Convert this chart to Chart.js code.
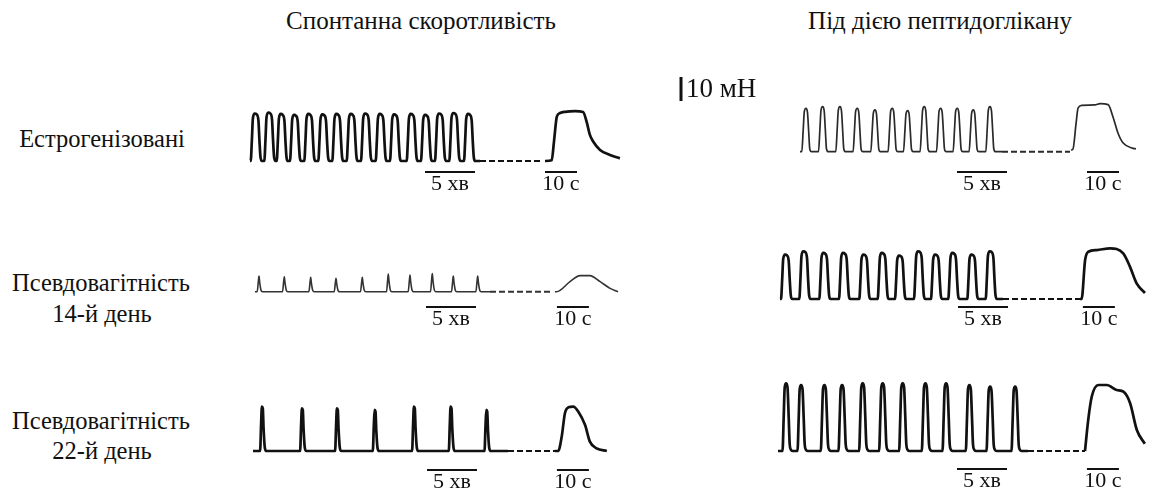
<!DOCTYPE html>
<html><head><meta charset="utf-8">
<script src="https://cdn.jsdelivr.net/npm/chart.js@4/dist/chart.umd.min.js"></script>
<style>
html,body{margin:0;padding:0;background:#fff}
body{width:1161px;height:497px;position:relative;overflow:hidden;font-family:"Liberation Serif","DejaVu Serif",serif;color:#111}
.t{position:absolute;white-space:nowrap;line-height:0;transform:translateX(-50%)}
canvas{position:absolute}
</style></head><body>
<script>
// ---------- texts ----------
const columnTitles = ['Спонтанна скоротливість', 'Під дією пептидоглікану'];
const rowLabels = [['Естрогенізовані'], ['Псевдовагітність', '14-й день'], ['Псевдовагітність', '22-й день']];
const minuteBarLabel = '5 хв';
const secondBarLabel = '10 с';
const forceBarLabel = '10 мН';
const minuteBarLength = 5;   // min
const secondBarLength = 10;  // s
const forceBarLength = 10;   // mN

// ---------- data: phasic peaks (min from record start, mN) and tonic responses (s, mN) ----------
// Естрогенізовані, спонтанна
const estroSpontPeakMin = [0.57,1.93,3.17,4.5,5.93,7.33,8.73,10.17,11.6,13.07,14.5,16.17,17.6,19.0,20.43,21.9];
const estroSpontPeakMN  = [19.8,20.2,19.6,19.2,19.6,19.4,19.6,19.6,19.8,19.6,19.4,19.6,19.2,19.8,20.0,19.6];
const estroSpontRecordEnd = 23.0, estroSpontBreakEnd = 29.0;
const estroSpontTonicSec = [0,2.1,2.8,3.7,4.7,6.25,9.4,11.9,13.0,14.0,15.1,17.2,20.3,23.4];
const estroSpontTonicMN  = [0,0.3,8,18.5,20,20.5,20.8,20.4,16.4,11,8,4.6,2.5,1.1];
// Естрогенізовані, пептидоглікан
const estroPgnPeakMin = [0.6,2.27,4.0,5.73,7.5,9.23,10.77,12.43,14.07,15.73,17.33,19.0];
const estroPgnPeakMN  = [18.1,18.75,18.75,18.1,17.4,18.1,17.1,18.75,18.1,18.1,17.4,18.75];
const estroPgnRecordEnd = 20.2, estroPgnBreakEnd = 27.0;
const estroPgnTonicSec = [0,0.6,1.6,2.2,3.4,7.5,9.1,11.6,13.1,14.7,16.3,19.4,20.3];
const estroPgnTonicMN  = [0.7,1.0,12,18.2,19.3,19.5,20,19.6,14.6,7.7,3.6,1.4,1.2];
// Псевдовагітність 14-й день, спонтанна
const ps14SpontPeakMin = [0.4,2.93,5.57,8.1,10.73,13.33,15.5,17.73,19.83,22.27];
const ps14SpontPeakMN  = [6.5,6.25,6.0,5.6,6.0,7.4,6.9,7.6,6.5,6.5];
const ps14SpontRecordEnd = 23.5, ps14SpontBreakEnd = 29.8;
const ps14SpontTonicSec = [0,0.5,4.7,7.8,10.9,14.1,17.2,19.7];
const ps14SpontTonicMN  = [0,0,4.2,6.7,6.7,4.2,1.4,0];
// Псевдовагітність 14-й день, пептидоглікан
const ps14PgnPeakMin = [0.6,2.43,4.43,6.4,8.43,10.27,12.0,13.9,15.6,17.33,19.23,21.07];
const ps14PgnPeakMN  = [18.5,19.9,19.2,19.2,18.5,19.2,18.1,19.9,18.5,19.2,18.5,19.9];
const ps14PgnRecordEnd = 22.3, ps14PgnBreakEnd = 30.0;
const ps14PgnTonicSec = [0,0.5,1.6,2.6,5.2,9.4,13.5,15.6,17.7,20.3];
const ps14PgnTonicMN  = [0,0,16.3,19.7,20.4,21.1,19,13.5,6.5,2.5];
// Псевдовагітність 22-й день, спонтанна
const ps22SpontPeakMin = [0.93,4.93,8.43,12.2,16.13,19.8,23.37];
const ps22SpontPeakMN  = [18.5,17.8,17.8,17.1,18.5,18.5,17.1];
const ps22SpontRecordEnd = 25.5, ps22SpontBreakEnd = 30.2;
const ps22SpontTonicSec = [0,1.0,2.1,3.1,4.2,5.7,7.3,9.4,10.9,13.0,16.2];
const ps22SpontTonicMN  = [0,0,6,15.7,18.2,18.5,16.4,10.8,3.9,1.1,0];
// Псевдовагітність 22-й день, пептидоглікан
const ps22PgnPeakMin = [0.87,2.37,4.7,6.47,8.53,10.53,12.53,14.8,16.87,19.2,21.27,23.77];
const ps22PgnPeakMN  = [28.2,27.5,27.5,27.5,28.2,28.2,28.2,28.2,28.2,27.5,26.8,26.8];
const ps22PgnRecordEnd = 25.0, ps22PgnBreakEnd = 30.7;
const ps22PgnTonicSec = [0,1.0,2.1,4.2,6.8,9.9,12,14.1,16.2,18.7];
const ps22PgnTonicMN  = [0,12.9,22.6,27.5,27.5,25.4,24.7,19.9,8.75,3];

// ---------- style / layout ----------
const PX_PER_MIN = 10, PX_PER_SEC = 3.2, PX_PER_MN = 2.4;
const shapes = {
  wide:   [[-0.5,0],[-0.38,0.45],[-0.28,0.9],[-0.1,1],[0.1,0.98],[0.27,0.86],[0.37,0.45],[0.48,0.08],[0.62,0]],
  narrow: [[-0.42,0],[-0.28,0.5],[-0.17,0.92],[0,1],[0.15,0.9],[0.26,0.5],[0.38,0.06],[0.55,0]],
  spike:  [[-0.18,0],[-0.06,0.7],[0,1],[0.07,0.6],[0.2,0.1],[0.35,0]],
  spikeB: [[-0.22,0],[-0.12,0.6],[-0.04,1],[0.05,0.96],[0.13,0.5],[0.25,0.08],[0.4,0]],
  tall:   [[-0.42,0],[-0.3,0.5],[-0.2,0.94],[-0.06,1],[0.08,0.94],[0.2,0.5],[0.3,0.1],[0.42,0.02],[0.58,0]]
};
const layouts = [
  {left:230,top:65,width:410,height:135,base:161,traceX:250,tonicX:545,barY:172,minBar:17.5,secBar:0,shape:'wide',lw:2.7,color:'#111'},
  {left:640,top:65,width:521,height:135,base:151.7,traceX:800,tonicX:1071,barY:172,minBar:15.7,secBar:5.0,shape:'narrow',lw:1.7,color:'#2a2a2a',forceBar:{x:681,bottom:101}},
  {left:230,top:215,width:410,height:125,base:291.7,traceX:255,tonicX:555,barY:307,minBar:17.1,secBar:0.6,shape:'spike',lw:1.6,color:'#333'},
  {left:640,top:215,width:521,height:125,base:299,traceX:780,tonicX:1080,barY:307,minBar:17.8,secBar:0.9,shape:'wide',lw:2.7,color:'#111'},
  {left:230,top:355,width:410,height:142,base:451,traceX:253,tonicX:555,barY:470,minBar:17.4,secBar:0.6,shape:'spikeB',lw:2.7,color:'#111'},
  {left:640,top:355,width:521,height:142,base:451,traceX:778,tonicX:1085,barY:469,minBar:17.9,secBar:0.6,shape:'tall',lw:2.7,color:'#111'}
];
const panelData = [
  [estroSpontPeakMin, estroSpontPeakMN, estroSpontRecordEnd, estroSpontBreakEnd, estroSpontTonicSec, estroSpontTonicMN],
  [estroPgnPeakMin, estroPgnPeakMN, estroPgnRecordEnd, estroPgnBreakEnd, estroPgnTonicSec, estroPgnTonicMN],
  [ps14SpontPeakMin, ps14SpontPeakMN, ps14SpontRecordEnd, ps14SpontBreakEnd, ps14SpontTonicSec, ps14SpontTonicMN],
  [ps14PgnPeakMin, ps14PgnPeakMN, ps14PgnRecordEnd, ps14PgnBreakEnd, ps14PgnTonicSec, ps14PgnTonicMN],
  [ps22SpontPeakMin, ps22SpontPeakMN, ps22SpontRecordEnd, ps22SpontBreakEnd, ps22SpontTonicSec, ps22SpontTonicMN],
  [ps22PgnPeakMin, ps22PgnPeakMN, ps22PgnRecordEnd, ps22PgnBreakEnd, ps22PgnTonicSec, ps22PgnTonicMN]
];

// ---------- html text ----------
const FONT = '"Liberation Serif","DejaVu Serif",serif';
function addText(txt, cx, baseline, size) {
  const d = document.createElement('div');
  d.className = 't';
  d.textContent = txt;
  d.style.fontSize = size + 'px';
  d.style.left = cx + 'px';
  d.style.top = (baseline - 0.3375 * size) + 'px';
  document.body.appendChild(d);
}
addText(columnTitles[0], 421, 29, 25);
addText(columnTitles[1], 940, 29, 25);
addText(rowLabels[0][0], 102, 147, 24.5);
addText(rowLabels[1][0], 101, 291, 24.5);
addText(rowLabels[1][1], 102, 322, 24.5);
addText(rowLabels[2][0], 101, 429, 24.5);
addText(rowLabels[2][1], 102, 459, 24.5);

// ---------- charts ----------
function phasicTrace(peakT, peakA, end, shape) {
  const pts = [{x:0, y:0}];
  peakT.forEach((t, i) => shape.forEach(([dt, f]) => pts.push({x:t + dt, y:peakA[i] * f})));
  pts.push({x:end, y:0});
  pts.sort((a, b) => a.x - b.x);
  return pts;
}
const barsPlugin = {
  id: 'bars',
  afterDatasetsDraw(chart) {
    const L = chart.options.plugins.bars.layout;
    const ctx = chart.ctx, xm = chart.scales.xm, xs = chart.scales.xs, y = chart.scales.y;
    const by = L.barY - L.top;
    ctx.save();
    ctx.strokeStyle = '#111'; ctx.fillStyle = '#111'; ctx.lineWidth = 2;
    const drawBar = (scale, a, len, label) => {
      const x0 = scale.getPixelForValue(a), x1 = scale.getPixelForValue(a + len);
      ctx.beginPath(); ctx.moveTo(x0, by); ctx.lineTo(x1, by); ctx.stroke();
      ctx.font = '22px ' + FONT; ctx.textAlign = 'center'; ctx.textBaseline = 'alphabetic';
      ctx.fillText(label, (x0 + x1) / 2, by + 18);
    };
    drawBar(xm, L.minBar, minuteBarLength, minuteBarLabel);
    drawBar(xs, L.secBar, secondBarLength, secondBarLabel);
    if (L.forceBar) {
      const fx = L.forceBar.x - L.left;
      const yb = L.forceBar.bottom - L.top;
      const v0 = y.getValueForPixel(yb);
      const yt = y.getPixelForValue(v0 + forceBarLength);
      ctx.lineWidth = 3;
      ctx.beginPath(); ctx.moveTo(fx, yb); ctx.lineTo(fx, yt); ctx.stroke();
      ctx.font = '27px ' + FONT; ctx.textAlign = 'left';
      ctx.fillText(forceBarLabel, fx + 5, yb - 4);
    }
    ctx.restore();
  }
};

layouts.forEach((L, i) => {
  const [pk, amp, end, brk, tS, tF] = panelData[i];
  const cv = document.createElement('canvas');
  cv.width = L.width; cv.height = L.height;
  cv.style.left = L.left + 'px'; cv.style.top = L.top + 'px';
  cv.style.width = L.width + 'px'; cv.style.height = L.height + 'px';
  document.body.appendChild(cv);
  const b = L.base - L.top;
  const common = {pointRadius:0, fill:false, borderColor:L.color, borderWidth:L.lw, cubicInterpolationMode:'monotone', yAxisID:'y'};
  new Chart(cv, {
    type: 'line',
    data: {datasets: [
      Object.assign({data: phasicTrace(pk, amp, end, shapes[L.shape]), xAxisID:'xm'}, common),
      Object.assign({}, common, {data:[{x:end, y:0}, {x:brk, y:0}], xAxisID:'xm', borderDash:[6,3], borderWidth:2, cubicInterpolationMode:'default', tension:0}),
      Object.assign({data: tS.map((s, k) => ({x:s, y:tF[k]})), xAxisID:'xs'}, common)
    ]},
    options: {
      responsive:false, animation:false, events:[], devicePixelRatio:1,
      layout:{padding:0},
      plugins:{legend:{display:false}, tooltip:{enabled:false}, bars:{layout:L}},
      scales:{
        xm:{type:'linear', display:false, bounds:'data', min:(L.left - L.traceX) / PX_PER_MIN, max:(L.left + L.width - L.traceX) / PX_PER_MIN},
        xs:{type:'linear', display:false, bounds:'data', min:(L.left - L.tonicX) / PX_PER_SEC, max:(L.left + L.width - L.tonicX) / PX_PER_SEC},
        y:{type:'linear', display:false, bounds:'data', min:-(L.height - b) / PX_PER_MN, max:b / PX_PER_MN}
      }
    },
    plugins:[barsPlugin]
  });
});
</script>
</body></html>
